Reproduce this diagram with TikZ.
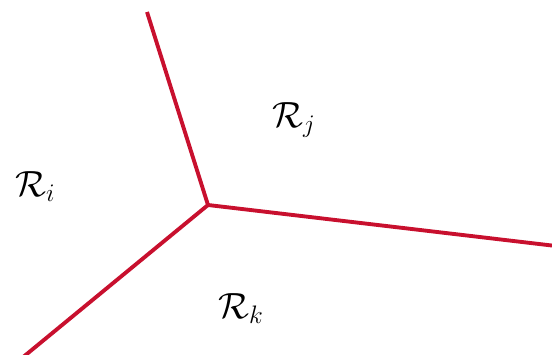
\documentclass[tikz,border=0pt]{standalone}
\usepackage{tikz}
\usetikzlibrary{positioning}
\definecolor{edgeRed}{HTML}{C8102E}

\begin{document}
\begin{tikzpicture}[x=0.02cm, y=-0.02cm,
    region/.style={font=\fontsize{20}{24}\selectfont, inner sep=0pt, anchor=base west},
    border/.style={edgeRed, line width=2.2pt}]
  \useasboundingbox (0,0) rectangle (552,355);

  \coordinate (mid) at (208,205);
  \coordinate (top) at (147,12);
  \coordinate (right) at (556,246);
  \coordinate (low) at (22,358);

  \node[region] (ri) at (15,196) {$\mathcal{R}_i$};
  \node[region] (rj) at (272,127) {$\mathcal{R}_j$};
  \node[region] (rk) at (218,318) {$\mathcal{R}_k$};

  \draw[border] (top) -- (mid);
  \draw[border] (mid) -- (right);
  \draw[border] (mid) -- (low);
\end{tikzpicture}
\end{document}
